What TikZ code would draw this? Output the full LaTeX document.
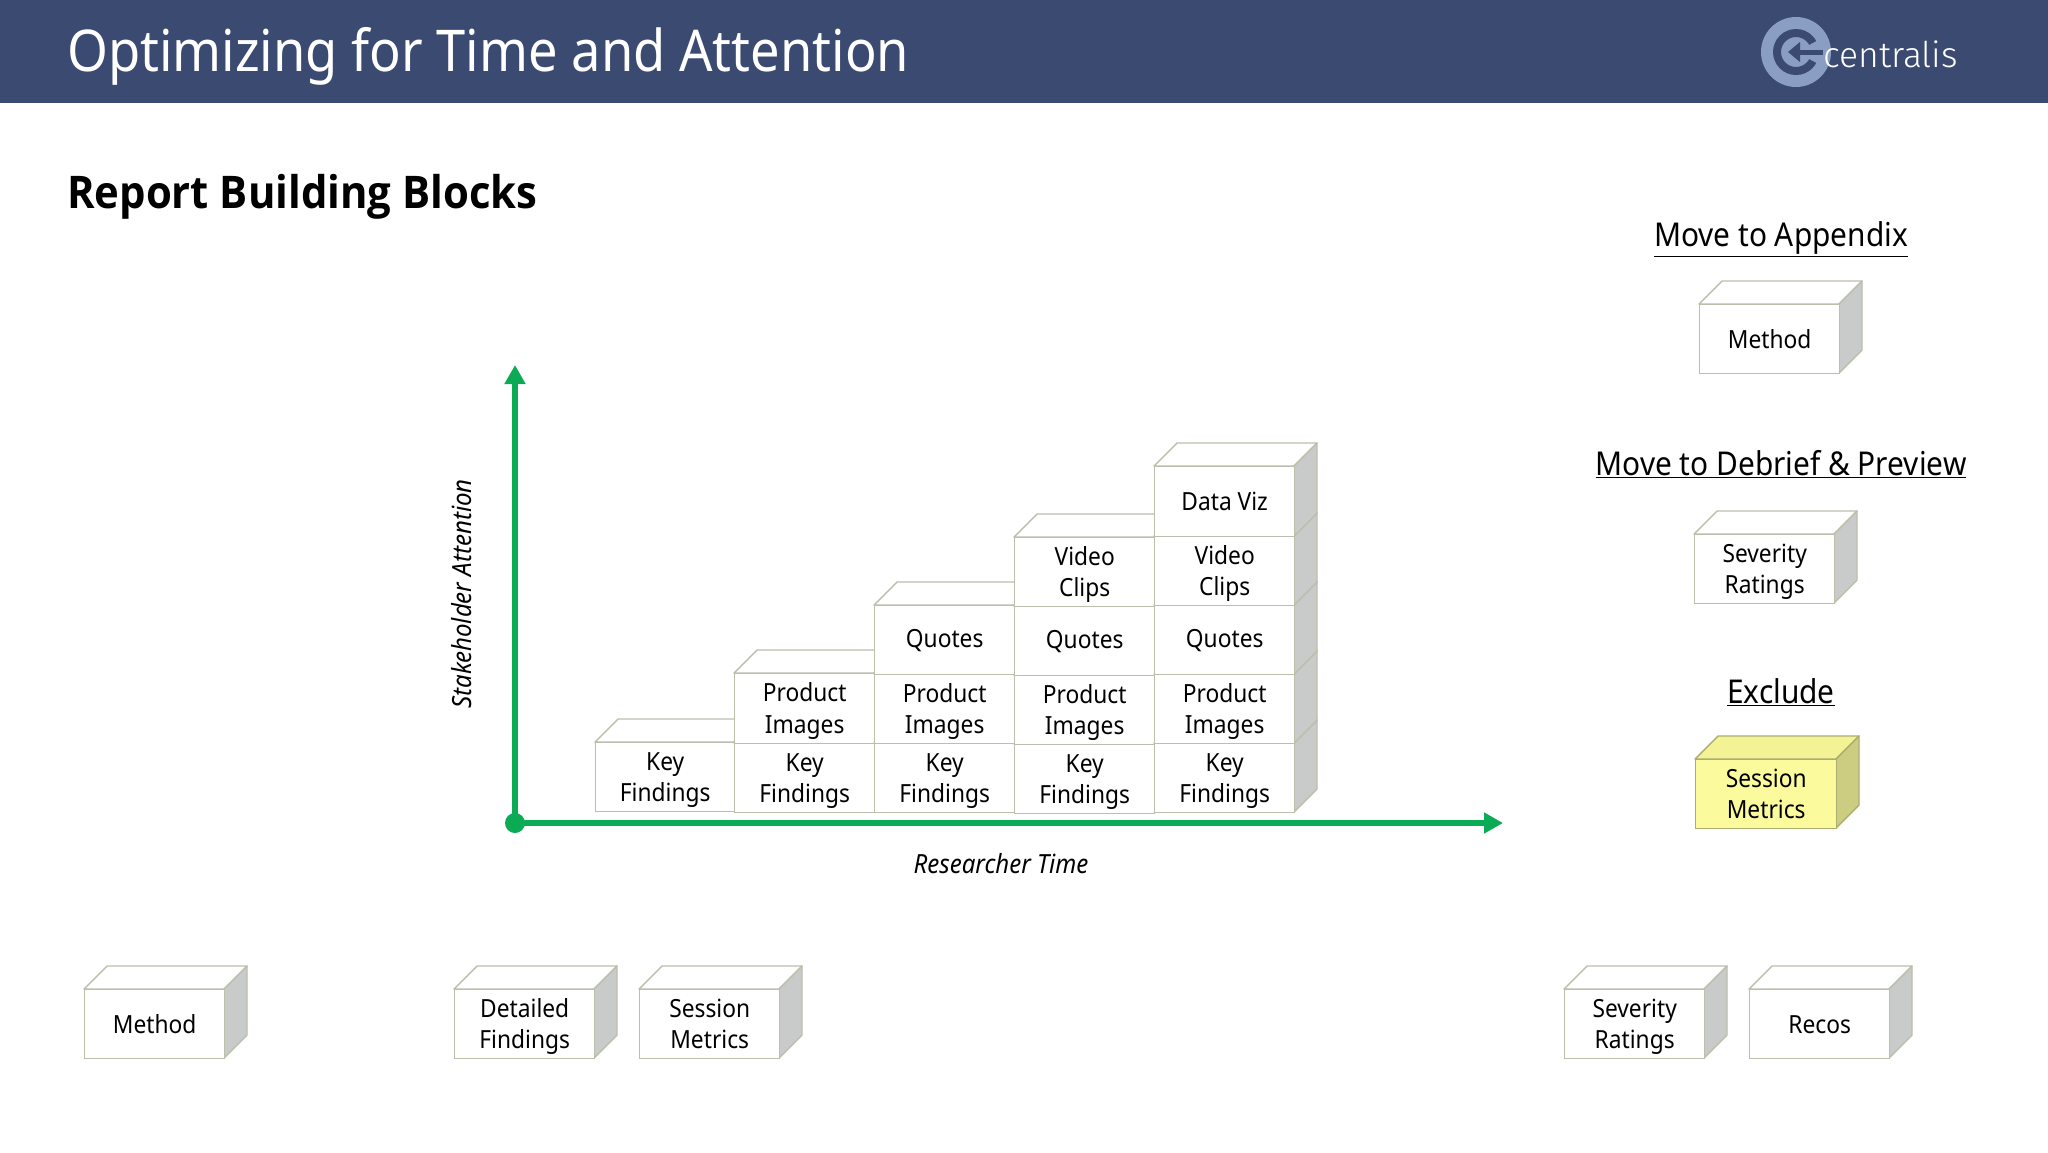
\documentclass[tikz,border=0pt]{standalone}
\usepackage{fontspec}
\setmainfont{Noto Sans}[FakeStretch=0.91]
\newfontfamily\logofont{Fira Sans Light}
\newfontfamily\subfont{Open Sans}[FakeStretch=0.93]
\usetikzlibrary{arrows.meta,calc}
\definecolor{headerblue}{HTML}{3B4A71}
\definecolor{logolight}{HTML}{8A9DC2}
\definecolor{axisgreen}{HTML}{0BAA55}
\definecolor{edgeplain}{HTML}{BCBFAC}
\definecolor{sidegrey}{HTML}{C9CBCA}
\definecolor{yellowfront}{HTML}{FBFB9D}
\definecolor{yellowtop}{HTML}{F3F396}
\definecolor{yellowside}{HTML}{CDCD82}
\definecolor{yellowedge}{HTML}{ABAE70}
\newcommand{\firstline}{\rule{0pt}{24pt}}
\newcommand{\lastline}{\rule[-6pt]{0pt}{6pt}}
\tikzset{
  boxtext/.style={font=\fontsize{25}{31.5}\selectfont,align=center,inner sep=0pt,anchor=north west},
  plainfront/.style={boxtext,draw=edgeplain,line width=1.4pt,fill=white},
  plaintop/.style={draw=edgeplain,line width=1.4pt,fill=white,line join=round},
  plainside/.style={draw=edgeplain,line width=1.4pt,fill=sidegrey,line join=round},
  yellowfrontface/.style={boxtext,draw=yellowedge,line width=1.4pt,fill=yellowfront},
  yellowtopface/.style={draw=yellowedge,line width=1.4pt,fill=yellowtop,line join=round},
  yellowsideface/.style={draw=yellowedge,line width=1.4pt,fill=yellowside,line join=round},
  axisline/.style={draw=axisgreen,line width=6pt,-{Triangle[length=19pt,width=20pt]}},
  axislabel/.style={font=\fontsize{26.4}{31}\selectfont\itshape,text=black,inner sep=0pt},
  heading/.style={font=\fontsize{32.8}{39}\selectfont,text=black,inner sep=0pt,anchor=base},
}
% name, x, y, w, h, text
\newcommand{\plaincube}[6]{%
  \coordinate (#1pos) at (#2,#3);
  \path[plaintop] (#2,#3) -- ++(23,-23) -- ++(#4,0) -- ++(-23,23) -- cycle;
  \path[plainside] (#2+#4,#3) -- ++(23,-23) -- ++(0,#5) -- ++(-23,23) -- cycle;
  \node[plainfront,minimum width=#4pt,minimum height=#5pt] (#1) at (#1pos) {#6};
}
\newcommand{\yellowcube}[6]{%
  \coordinate (#1pos) at (#2,#3);
  \path[yellowtopface] (#2,#3) -- ++(23,-23) -- ++(#4,0) -- ++(-23,23) -- cycle;
  \path[yellowsideface] (#2+#4,#3) -- ++(23,-23) -- ++(0,#5) -- ++(-23,23) -- cycle;
  \node[yellowfrontface,minimum width=#4pt,minimum height=#5pt] (#1) at (#1pos) {#6};
}
\begin{document}
\begin{tikzpicture}[x=1pt,y=-1pt]
\useasboundingbox (0,0) rectangle (2048,1152);
\fill[white] (0,0) rectangle (2048,1152);
\fill[headerblue] (0,0) rectangle (2048,103);
\node[anchor=west,inner sep=0pt,text=white,font=\fontsize{57.6}{70}\selectfont] (title) at (67,56) {Optimizing for Time and Attention};
% logo
\fill[logolight] (1796,52) circle (35);
\fill[headerblue,even odd rule] (1796,52) circle (23) (1796,52) circle (15);
\fill[logolight] (1796,52) -- (1826,36) -- (1826,68) -- cycle;
\fill[headerblue] (1799,49.5) rectangle (1823,54.5);
\fill[headerblue] (1788,52) -- (1800,42) -- (1800,62) -- cycle;
\node[anchor=base west,inner sep=0pt,text=white,font=\logofont\fontsize{35.5}{40}\selectfont] (logotext) at (1823,67) {centralis};

\node[anchor=west,inner sep=0pt,text=black,font=\fontsize{45}{54}\selectfont\subfont\bfseries] (subtitle) at (67,197) {Report Building Blocks};

% axes
\node[circle,fill=axisgreen,minimum size=20pt,inner sep=0pt] (origin) at (515,823) {};
\coordinate (ytip) at (515,365);
\coordinate (xtip) at (1503,823);
\draw[axisline] (origin.center) -- (ytip);
\draw[axisline] (origin.center) -- (xtip);
\node[axislabel,rotate=90] (ylabel) at (462,594) {Stakeholder Attention};
\node[axislabel] (xlabel) at (1001,864) {Researcher Time};

% stairs, column 1
\plaincube{aKey}{595}{742}{139}{69}{\firstline Key\\Findings}
% column 2
\plaincube{bKey}{734}{743}{140}{69}{\firstline Key\\Findings}
\plaincube{bProd}{734}{673}{140}{70}{\firstline Product\\Images}
% column 3
\plaincube{cKey}{874}{743}{140}{69}{\firstline Key\\Findings}
\plaincube{cProd}{874}{674}{140}{69}{\firstline Product\\Images}
\plaincube{cQuote}{874}{605}{140}{69}{Quotes}
% column 4
\plaincube{dKey}{1014}{744}{140}{69}{\firstline Key\\Findings}
\plaincube{dProd}{1014}{675}{140}{69}{\firstline Product\\Images}
\plaincube{dQuote}{1014}{606}{140}{69}{Quotes}
\plaincube{dVideo}{1014}{537}{140}{69}{\firstline Video\\Clips}
% column 5
\plaincube{eKey}{1154}{743}{140}{69}{\firstline Key\\Findings}
\plaincube{eProd}{1154}{674}{140}{69}{\firstline Product\\Images}
\plaincube{eQuote}{1154}{605}{140}{69}{Quotes}
\plaincube{eVideo}{1154}{536}{140}{69}{\firstline Video\\Clips}
\plaincube{eViz}{1154}{466}{140}{70}{Data Viz}

% right column
\node[heading] (hAppendix) at (1781,246.5) {\underline{Move to Appendix}};
\plaincube{rMethod}{1699}{304}{140}{69}{Method}
\node[heading] (hDebrief) at (1781,475.5) {\underline{Move to Debrief \& Preview}};
\plaincube{rSeverity}{1694}{534}{140}{69}{\firstline Severity\\Ratings}
\node[heading] (hExclude) at (1781,703.5) {\underline{Exclude}};
\yellowcube{rSession}{1695}{759}{141}{69}{\firstline Session\\Metrics\lastline}

% bottom row
\plaincube{bMethod}{84}{989}{140}{69}{Method}
\plaincube{bDetailed}{454}{989}{140}{69}{\firstline Detailed\\Findings}
\plaincube{bSession}{639}{989}{140}{69}{\firstline Session\\Metrics\lastline}
\plaincube{bSeverity}{1564}{989}{140}{69}{\firstline Severity\\Ratings}
\plaincube{bRecos}{1749}{989}{140}{69}{Recos}
\end{tikzpicture}
\end{document}
